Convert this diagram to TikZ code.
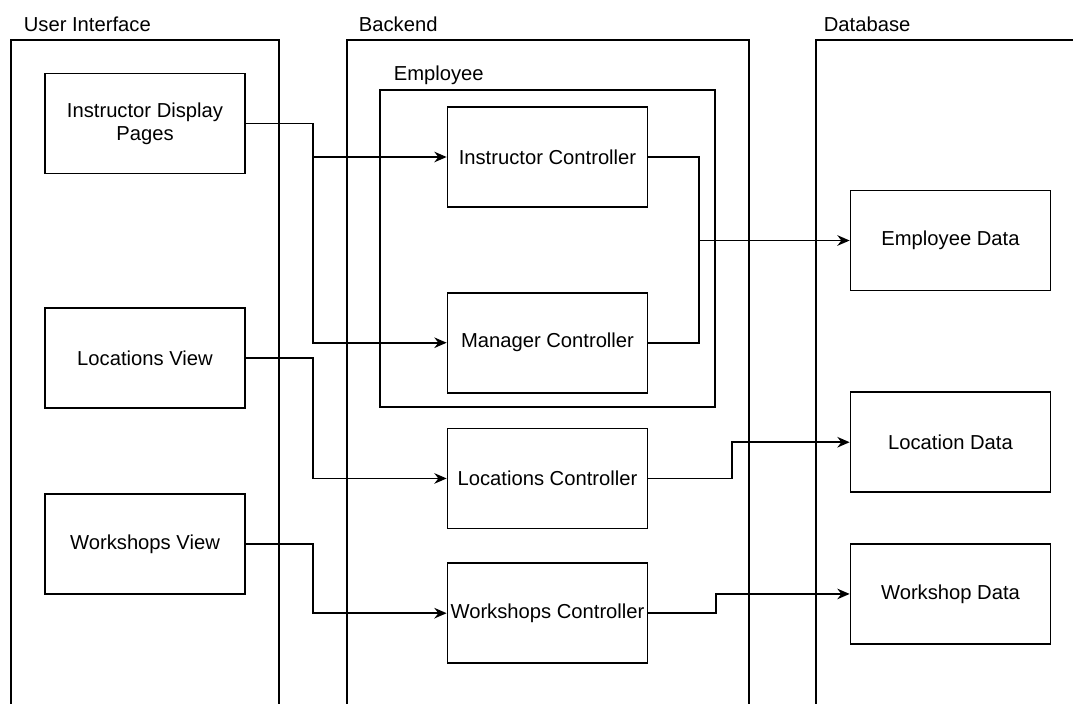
\documentclass[tikz,border=0pt]{standalone}
\usepackage{fontspec}
\setmainfont{Liberation Sans}
\usetikzlibrary{arrows.meta,positioning}

\begin{document}
\begin{tikzpicture}[x=0.02cm, y=-0.02cm, >={Stealth[length=7pt,width=6pt]}, line width=1pt,
    font=\fontsize{11.5}{13}\selectfont]
  \tikzstyle{box} = [rectangle, draw, minimum width=4cm, minimum height=2cm, align=center, inner sep=1pt]
  \tikzstyle{groupbox} = [draw]
  \tikzstyle{grouptitle} = [anchor=west, inner sep=0pt]

  \useasboundingbox (0,0) rectangle (1073,704);
  \clip (0,0) rectangle (1073,704);

  % columns
  \draw[groupbox] (11,40) rectangle (279,720);
  \draw[groupbox] (347,40) rectangle (749,720);
  \draw[groupbox] (816,40) rectangle (1090,720);
  \draw[groupbox] (380,90) rectangle (715,407);
  \node[grouptitle] (uiTitle) at (23,24) {User Interface};
  \node[grouptitle] (beTitle) at (358,24) {Backend};
  \node[grouptitle] (dbTitle) at (823,24) {Database};
  \node[grouptitle] (empTitle) at (393,75) {Employee};

  % user interface
  \node[box] (idp) at (145,123.5) {Instructor Display\\Pages};
  \node[box] (lview) [below=2.66cm of idp] {Locations View};
  \node[box] (wview) [below=1.68cm of lview] {Workshops View};

  % backend
  \node[box] (ictl) at (547.5,157) {Instructor Controller};
  \node[box] (mctl) [below=1.68cm of ictl] {Manager Controller};
  \node[box] (lctl) [below=0.68cm of mctl] {Locations Controller};
  \node[box] (wctl) [below=0.66cm of lctl] {Workshops Controller};

  % database
  \node[box] (edata) at (950.5,240.5) {Employee Data};
  \node[box] (ldata) [below=2cm of edata] {Location Data};
  \node[box] (wdata) [below=1cm of ldata] {Workshop Data};

  \coordinate (uiBus) at (313,0);
  \coordinate (empBus) at (699,0);
  \coordinate (locBus) at (732,0);
  \coordinate (wsBus) at (716,0);

  \draw[->] (idp.east) -- (idp.east -| uiBus) |- (ictl.west);
  \draw[->] (idp.east -| uiBus) |- (mctl.west);
  \draw[->] (lview.east) -- (lview.east -| uiBus) |- (lctl.west);
  \draw[->] (wview.east) -- (wview.east -| uiBus) |- (wctl.west);
  \draw (ictl.east) -- (ictl.east -| empBus) |- (mctl.east);
  \draw[->] (empBus |- edata.west) -- (edata.west);
  \draw[->] (lctl.east) -- (lctl.east -| locBus) |- (ldata.west);
  \draw[->] (wctl.east) -- (wctl.east -| wsBus) |- (wdata.west);
\end{tikzpicture}
\end{document}
